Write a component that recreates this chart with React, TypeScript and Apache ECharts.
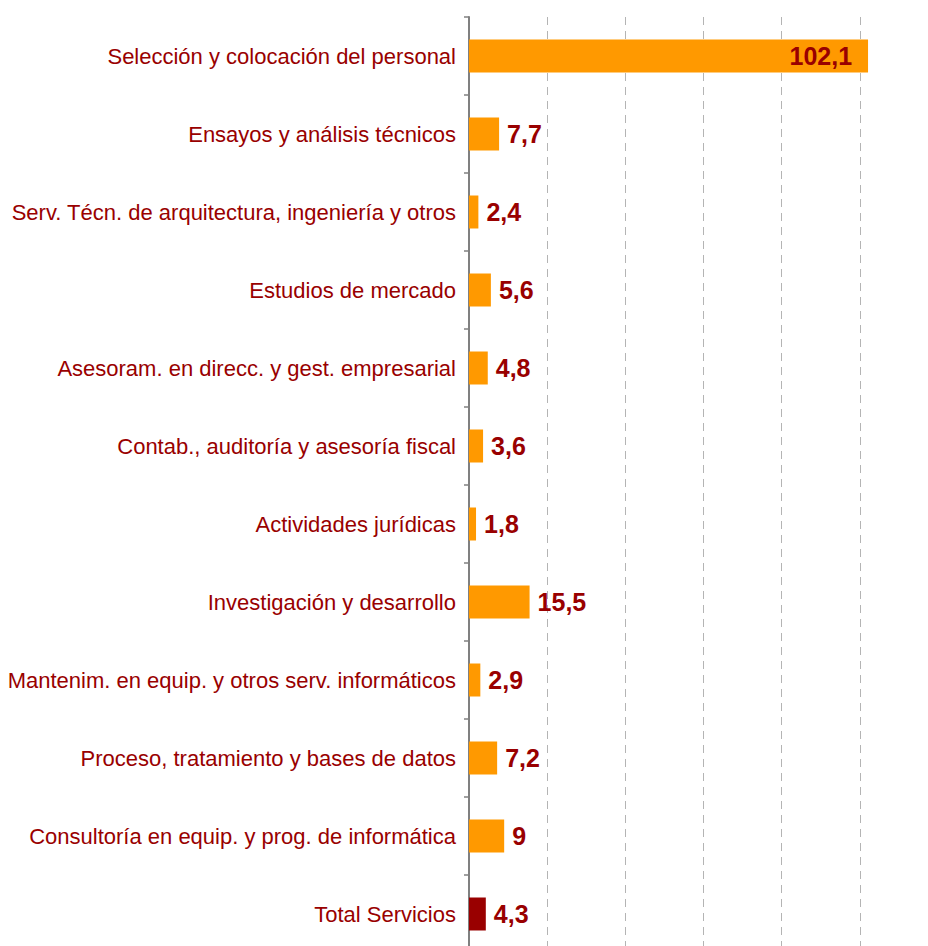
import React, { useEffect, useRef } from "react";
import * as echarts from "echarts";

const categories = [
  "Selección y colocación del personal",
  "Ensayos y análisis técnicos",
  "Serv. Técn. de arquitectura, ingeniería y otros",
  "Estudios de mercado",
  "Asesoram. en direcc. y gest. empresarial",
  "Contab., auditoría y asesoría fiscal",
  "Actividades jurídicas",
  "Investigación y desarrollo",
  "Mantenim. en equip. y otros serv. informáticos",
  "Proceso, tratamiento y bases de datos",
  "Consultoría en equip. y prog. de informática",
  "Total Servicios",
];

const values = [102.1, 7.7, 2.4, 5.6, 4.8, 3.6, 1.8, 15.5, 2.9, 7.2, 9, 4.3];

const ORANGE = "#FF9900";
const DARK = "#990000";

export default function App() {
  const ref = useRef<HTMLDivElement>(null);

  useEffect(() => {
    if (!ref.current) return;
    const chart = echarts.init(ref.current, null, { renderer: "svg" });
    const fmt = (v: number) => String(v).replace(".", ",");
    const data = values.map((v, i) => {
      const isTotal = categories[i] === "Total Servicios";
      const item: any = {
        value: v,
        itemStyle: { color: isTotal ? DARK : ORANGE },
      };
      if (i === 0) {
        item.label = { position: "insideRight", distance: 16 };
      }
      return item;
    });
    chart.setOption({
      animation: false,
      grid: { left: 469, right: 0, top: 17, bottom: 0, containLabel: false },
      xAxis: {
        type: "value",
        min: 0,
        max: 120,
        interval: 20,
        axisLabel: { show: false },
        axisLine: { show: false },
        axisTick: { show: false },
        splitLine: {
          show: true,
          lineStyle: { color: "#b4b4b4", width: 1, type: [8, 6] },
        },
      },
      yAxis: {
        type: "category",
        inverse: true,
        data: categories,
        axisLine: { show: true, lineStyle: { color: "#808080", width: 2 } },
        axisTick: {
          show: true,
          inside: false,
          length: 5,
          alignWithLabel: false,
          lineStyle: { color: "#808080", width: 1.5 },
        },
        axisLabel: {
          color: DARK,
          fontFamily: "Liberation Sans, Arial, sans-serif",
          fontSize: 22,
          margin: 13,
        },
        splitLine: { show: false },
      },
      series: [
        {
          type: "bar",
          data,
          barWidth: 33,
          label: {
            show: true,
            position: "right",
            distance: 8,
            color: DARK,
            fontFamily: "Liberation Sans, Arial, sans-serif",
            fontWeight: "bold",
            fontSize: 25,
            formatter: (p: any) => fmt(p.value),
          },
        },
      ],
    });
    return () => chart.dispose();
  }, []);

  return (
    <div
      style={{
        position: "absolute",
        left: 0,
        top: 0,
        width: 928,
        height: 946,
        overflow: "hidden",
        background: "#fff",
      }}
    >
      <div ref={ref} style={{ width: 938, height: 953 }} />
    </div>
  );
}
